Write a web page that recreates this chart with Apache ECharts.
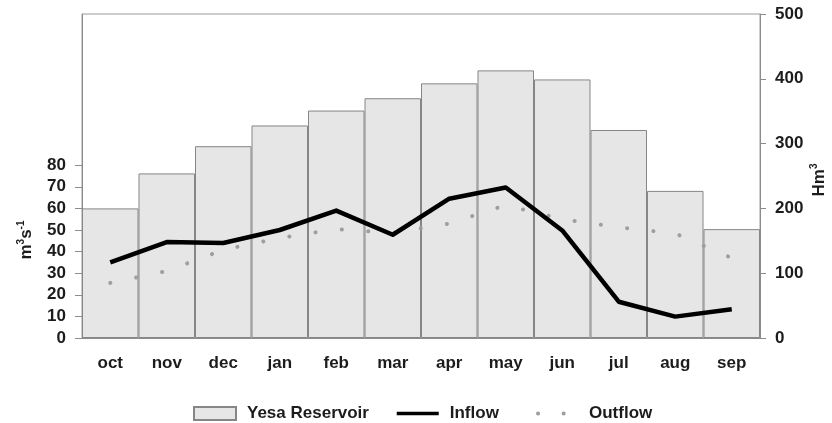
<!DOCTYPE html>
<html>
<head>
<meta charset="utf-8">
<style>
  html, body { margin: 0; padding: 0; background: #fff; }
  #chart { width: 832px; height: 423px; }
</style>
<script src="https://cdn.jsdelivr.net/npm/echarts@6/dist/echarts.min.js"></script>
</head>
<body>
<div id="chart"></div>
<script>
// Months of the hydrological year
const months = ['oct', 'nov', 'dec', 'jan', 'feb', 'mar', 'apr', 'may', 'jun', 'jul', 'aug', 'sep'];
// Stored volume of the Yesa Reservoir (Hm3, right axis)
const reservoir = [200, 254, 296, 328, 351, 370, 393, 413, 399, 321, 227, 168];
// Mean monthly inflow (m3/s, left axis)
const inflow = [35, 44.4, 44, 50, 59, 47.8, 64.5, 69.7, 49.8, 16.8, 9.9, 13.3];
// Mean monthly outflow (m3/s, left axis)
const outflow = [25.5, 31, 40.8, 46.3, 50.4, 48.6, 53, 61.5, 55, 51.2, 48.4, 37];
// Tick values shown on each value axis
const flowTicks = [0, 10, 20, 30, 40, 50, 60, 70, 80];
const volumeTicks = [0, 100, 200, 300, 400, 500];

const FONT = '"Liberation Sans", Arial, sans-serif';
const FS = 17;
const TEXT = '#1c1c1c';
const AXIS = '#8c8c8c';
const DOT = '#9e9e9e';
const DOTTED = { color: DOT, width: 4, type: [0.1, 26.4], cap: 'round' };
const DOTTED_KEY = { color: DOT, width: 4, type: [0.1, 25.5], cap: 'round' };

const chart = echarts.init(document.getElementById('chart'));

const legendBase = {
  padding: 0,
  itemWidth: 42,
  itemHeight: 13,
  textStyle: { fontFamily: FONT, fontWeight: 'bold', fontSize: FS, color: TEXT, padding: [0, 0, 0, 6] },
  selectedMode: false
};

const labelStyle = { fontFamily: FONT, fontWeight: 'bold', fontSize: FS, color: TEXT };

chart.setOption({
  animation: false,
  textStyle: { fontFamily: FONT },
  grid: {
    left: 82, right: 72, top: 14, bottom: 85,
    show: true, borderColor: '#9a9a9a', borderWidth: 1, backgroundColor: 'transparent'
  },
  legend: [
    Object.assign({}, legendBase, {
      left: 193, top: 405,
      data: [{ name: 'Yesa Reservoir', icon: 'rect' }]
    }),
    Object.assign({}, legendBase, {
      left: 395, top: 405,
      itemStyle: { opacity: 0 },
      lineStyle: { color: '#000', width: 3.5 },
      data: ['Inflow']
    }),
    Object.assign({}, legendBase, {
      left: 536, top: 405, itemWidth: 40,
      itemStyle: { opacity: 0 },
      lineStyle: DOTTED_KEY,
      data: ['Outflow']
    })
  ],
  xAxis: {
    type: 'category',
    data: months,
    boundaryGap: true,
    axisLine: { lineStyle: { color: AXIS, width: 1 } },
    axisTick: { alignWithLabel: true, length: 4, lineStyle: { color: AXIS } },
    axisLabel: Object.assign({ margin: 17 }, labelStyle)
  },
  yAxis: [
    {
      type: 'value',
      min: 0, max: 150, interval: 10,
      position: 'left',
      splitLine: { show: false },
      axisLine: { show: true, lineStyle: { color: AXIS } },
      axisTick: { show: true, length: 7, customValues: flowTicks, lineStyle: { color: AXIS } },
      axisLabel: Object.assign({ margin: 16, customValues: flowTicks }, labelStyle)
    },
    {
      type: 'value',
      min: 0, max: 500, interval: 100,
      position: 'right',
      splitLine: { show: false },
      axisLine: { show: true, lineStyle: { color: AXIS } },
      axisTick: { show: true, length: 6, customValues: volumeTicks, lineStyle: { color: AXIS } },
      axisLabel: Object.assign({ margin: 15, customValues: volumeTicks }, labelStyle)
    }
  ],
  graphic: [
    {
      type: 'text',
      x: 26, y: 240, rotation: Math.PI / 2,
      style: {
        text: '{b|m}{s|3}{b|s}{s|-1}',
        align: 'center', verticalAlign: 'middle',
        rich: {
          b: { fontFamily: FONT, fontWeight: 'bold', fontSize: FS, fill: TEXT, lineHeight: 19 },
          s: { fontFamily: FONT, fontWeight: 'bold', fontSize: 10, fill: TEXT, lineHeight: 19, verticalAlign: 'top', padding: [0, 0, 8, 0] }
        }
      }
    },
    {
      type: 'text',
      x: 819, y: 180, rotation: Math.PI / 2,
      style: {
        text: '{b|Hm}{s|3}',
        align: 'center', verticalAlign: 'middle',
        rich: {
          b: { fontFamily: FONT, fontWeight: 'bold', fontSize: FS, fill: TEXT, lineHeight: 19 },
          s: { fontFamily: FONT, fontWeight: 'bold', fontSize: 10, fill: TEXT, lineHeight: 19, verticalAlign: 'top', padding: [0, 0, 8, 0] }
        }
      }
    }
  ],
  series: [
    {
      name: 'Yesa Reservoir',
      type: 'bar',
      yAxisIndex: 1,
      data: reservoir,
      barCategoryGap: 0,
      itemStyle: { color: '#e6e6e6', borderColor: '#868686', borderWidth: 1 },
      z: 1
    },
    {
      name: 'Outflow',
      type: 'line',
      yAxisIndex: 0,
      data: outflow,
      symbol: 'none',
      lineStyle: DOTTED,
      itemStyle: { color: DOT },
      z: 3
    },
    {
      name: 'Inflow',
      type: 'line',
      yAxisIndex: 0,
      data: inflow,
      symbol: 'none',
      lineStyle: { color: '#000', width: 4.5, join: 'round' },
      itemStyle: { color: '#000' },
      z: 4
    }
  ]
});
</script>
</body>
</html>
